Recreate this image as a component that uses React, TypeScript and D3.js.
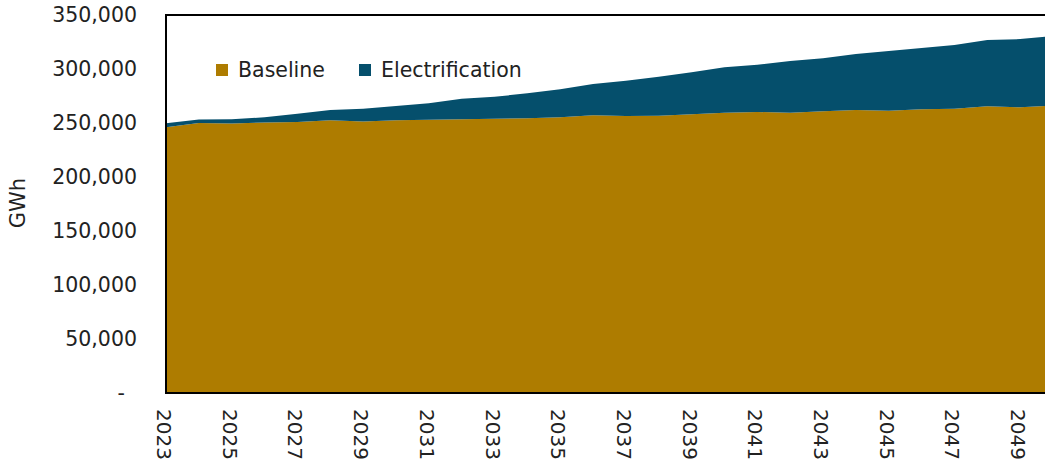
import React from "react";
import * as d3 from "d3";

// Annual electricity demand (GWh), 2023–2050
const years: number[] = d3.range(2023, 2051);
const baseline: number[] = [
  246000, 250000, 249500, 250500, 251000, 252500, 251500, 252500, 253000, 253500,
  254000, 254300, 255300, 257100, 256500, 256700, 258000, 259500, 260200, 259500,
  260800, 262000, 261400, 262700, 263200, 265500, 264500, 266000,
];
const electrification: number[] = [
  3700, 3300, 3900, 4800, 7600, 9500, 11700, 13200, 15200, 19000,
  20300, 23200, 25900, 29000, 32700, 36200, 38900, 42100, 43800, 47900,
  49100, 51900, 55300, 56700, 59000, 61300, 63200, 64500,
];
const yTicks: number[] = [0, 50000, 100000, 150000, 200000, 250000, 300000, 350000];
const xTickYears: number[] = d3.range(2023, 2050, 2);
const seriesNames = ["Baseline", "Electrification"];
const seriesColors = ["#AE7C00", "#054F6C"];

const W = 1045;
const H = 464;
const FONT = "'DejaVu Sans', 'Open Sans', sans-serif";
const TEXT = "#222222";

export default function App() {
  const left = 166;
  const top = 15;
  const bottom = 393;
  const x = d3.scaleLinear().domain([2023, 2050]).range([left, 1053]);
  const y = d3.scaleLinear().domain([0, 350000]).range([bottom, top]);

  const rows = years.map((yr, i) => ({
    year: yr,
    Baseline: baseline[i],
    Electrification: electrification[i],
  }));
  const stacked = d3.stack<any>().keys(seriesNames)(rows);
  const area = d3
    .area<any>()
    .x((d) => x(d.data.year))
    .y0((d) => y(d[0]))
    .y1((d) => y(d[1]));

  const fmt = d3.format(",");

  return (
    <svg
      width={W}
      height={H}
      style={{ position: "absolute", left: 0, top: 0, background: "#fff" }}
      fontFamily={FONT}
    >
      {/* stacked areas */}
      <g>
        {stacked.map((s, i) => (
          <path key={s.key} d={area(s) || ""} fill={seriesColors[i]} />
        ))}
      </g>

      {/* plot frame */}
      <line x1={left} x2={W} y1={top} y2={top} stroke="#000" strokeWidth={2} />
      <line x1={left} x2={left} y1={top - 1} y2={bottom + 1} stroke="#000" strokeWidth={2} />
      <line x1={left} x2={W} y1={bottom} y2={bottom} stroke="#000" strokeWidth={2} />

      {/* y axis labels */}
      {yTicks.map((t) => (
        <text
          key={t}
          x={t === 0 ? 125 : 137}
          y={y(t)}
          textAnchor="end"
          dominantBaseline="central"
          fontSize={20.5}
          fill={TEXT}
        >
          {t === 0 ? "-" : fmt(t)}
        </text>
      ))}

      {/* y axis title */}
      <text
        transform={`translate(18,203) rotate(-90)`}
        textAnchor="middle"
        dominantBaseline="central"
        fontSize={21}
        fill={TEXT}
      >
        GWh
      </text>

      {/* x axis labels */}
      {xTickYears.map((yr) => (
        <text
          key={yr}
          transform={`translate(${x(yr) - 2},409) rotate(90)`}
          textAnchor="start"
          dominantBaseline="central"
          fontSize={20}
          fill={TEXT}
        >
          {yr}
        </text>
      ))}

      {/* legend */}
      {seriesNames.map((name, i) => {
        const lx = i === 0 ? 216 : 359;
        return (
          <g key={name}>
            <rect x={lx} y={64} width={12} height={12} fill={seriesColors[i]} />
            <text
              x={lx + 22}
              y={70}
              dominantBaseline="central"
              fontSize={20.5}
              fill={TEXT}
            >
              {name}
            </text>
          </g>
        );
      })}
    </svg>
  );
}
